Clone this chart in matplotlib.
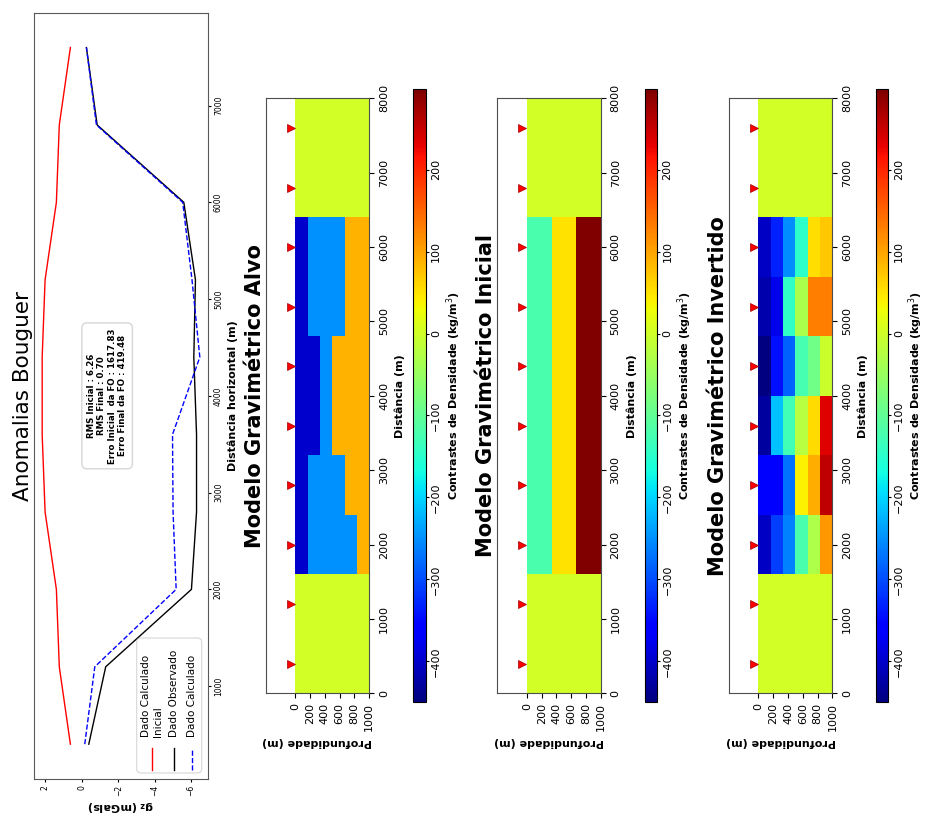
import matplotlib
matplotlib.use("Agg")
import matplotlib.pyplot as plt
import numpy as np
from matplotlib.lines import Line2D
from matplotlib.patches import FancyBboxPatch

W, H = 928, 819

# stations (m) and gravity anomaly curves (mGal)
stations = [400, 1200, 2000, 2800, 3600, 4400, 5200, 6000, 6800, 7600]
gz_ini = [0.63, 1.24, 1.40, 2.02, 2.18, 2.18, 2.02, 1.40, 1.24, 0.63]
gz_obs = [-0.38, -1.31, -6.02, -6.30, -6.30, -6.15, -6.24, -5.60, -0.84, -0.25]
gz_calc = [-0.16, -0.71, -5.18, -5.01, -4.98, -6.48, -6.05, -5.54, -0.80, -0.25]

info_text = ("RMS Inicial : 6.26\nRMS Final : 0.70\n"
             "Erro Inicial  da FO : 1617.83\nErro Final da FO : 419.48")

# model grid: 10 columns of 800 m, 6 layers down to 1000 m
dist_edges = [0, 800, 1600, 2400, 3200, 4000, 4800, 5600, 6400, 7200, 8000]
depth_edges = [0, 166.7, 333.3, 500, 666.7, 833.3, 1000]
depth_ticks = [0, 200, 400, 600, 800, 1000]
dist_ticks = [0, 1000, 2000, 3000, 4000, 5000, 6000, 7000, 8000]

bg = [0, 0, 0, 0, 0, 0]
alvo = [
    bg, bg,
    [-400, -250, -250, -250, -250, 90],
    [-400, -250, -250, -250, 90, 90],
    [-400, -400, -250, 90, 90, 90],
    [-400, -400, -250, 90, 90, 90],
    [-400, -250, -250, -250, 90, 90],
    [-400, -250, -250, -250, 90, 90],
    bg, bg,
]
inicial = [
    bg, bg,
    [-120, -120, 50, 50, 298, 298],
    [-120, -120, 50, 50, 298, 298],
    [-120, -120, 50, 50, 298, 298],
    [-120, -120, 50, 50, 298, 298],
    [-120, -120, 50, 50, 298, 298],
    [-120, -120, 50, 50, 298, 298],
    bg, bg,
]
invertido = [
    bg, bg,
    [-404, -310, -263, -121, -31, 110],
    [-365, -358, -274, 38, 91, 257],
    [-429, -216, -130, -21, 57, 235],
    [-450, -345, -286, -125, -86, -3],
    [-419, -378, -144, -35, 130, 130],
    [-404, -333, -252, -147, 53, 73],
    bg, bg,
]
titles = ["Modelo Gravimétrico Alvo", "Modelo Gravimétrico Inicial",
          "Modelo Gravimétrico Invertido"]


def add_axes_px(fig, left, top, right, bottom):
    return fig.add_axes([left / W, 1 - bottom / H,
                         (right - left) / W, (bottom - top) / H])


def fx(x):
    return x / W


def fy(y):
    return 1 - y / H


def main() -> None:
    fig = plt.figure(figsize=(W / 100, H / 100), dpi=100)

    # --- Anomalias Bouguer (rotated: distance runs upward) ---
    ax0 = add_axes_px(fig, 34.3, 12.7, 207.7, 779.0)
    ax0.plot(gz_ini, stations, color="red", lw=1)
    ax0.plot(gz_obs, stations, color="black", lw=1)
    ax0.plot(gz_calc, stations, color="blue", lw=1, ls="--")
    ax0.invert_xaxis()
    ax0.yaxis.tick_right()
    ax0.yaxis.set_label_position("right")
    ax0.set_xticks([2, 0, -2, -4, -6])
    ax0.set_yticks([1000, 2000, 3000, 4000, 5000, 6000, 7000])
    ax0.tick_params(labelsize=5.5, length=2.5, pad=2)
    for s in ax0.spines.values():
        s.set_color("0.35")
    for lab in ax0.get_xticklabels():
        lab.set_rotation(90)
    for lab in ax0.get_yticklabels():
        lab.set_rotation(90)
        lab.set_va("center")
    ax0.set_ylabel("Distância horizontal (m)", fontsize=8, fontweight="bold",
                   labelpad=3)
    ax0.set_xlabel(r"$\mathbf{g_z}$ (mGals)", fontsize=8, fontweight="bold",
                   rotation=180, labelpad=2)
    fig.text(fx(23), fy(396), "Anomalias Bouguer", rotation=90, fontsize=15.5,
             ha="center", va="center")

    ax0.text(0.42, 0.5, info_text, transform=ax0.transAxes, rotation=90,
             ha="center", va="center", multialignment="center", fontsize=6.2,
             fontweight="bold",
             bbox=dict(boxstyle="round,pad=0.6", facecolor="white",
                       edgecolor="0.8", alpha=0.8))

    # legend drawn by hand so it reads along the rotated page
    fig.add_artist(FancyBboxPatch((fx(136.7), fy(773)), fx(201.7) - fx(136.7),
                                  fy(638) - fy(773),
                                  boxstyle="round,pad=0,rounding_size=0.005",
                                  transform=fig.transFigure, facecolor="white",
                                  edgecolor="0.8", alpha=0.8, lw=0.8))
    leg = [("Dado Calculado\nInicial", 152.0, dict(color="red")),
           ("Dado Observado", 174.0, dict(color="black")),
           ("Dado Calculado", 191.7, dict(color="blue", ls="--"))]
    for label, xp, style in leg:
        fig.add_artist(Line2D([fx(xp), fx(xp)], [fy(770), fy(748)],
                              transform=fig.transFigure, lw=1, **style))
        fig.text(fx(xp), fy(737), label, rotation=90, fontsize=7.5,
                 ha="center", va="bottom", multialignment="left")

    # --- density models ---
    all_vals = np.array([alvo, inicial, invertido], dtype=float)
    vmin, vmax = all_vals.min(), all_vals.max()
    for i, (title, model) in enumerate(zip(titles, [alvo, inicial, invertido])):
        left = 265.7 + i * 231.6
        ax = add_axes_px(fig, left, 98.3, left + 103.6, 693.3)
        mesh = ax.pcolormesh(depth_edges, dist_edges, np.array(model, dtype=float),
                             cmap="jet", vmin=vmin, vmax=vmax)
        ax.plot([-62] * len(stations), stations, ">", color="red",
                markersize=5.5, markeredgecolor="#a00000", markeredgewidth=0.5)
        ax.set_xlim(-400, 1000)
        ax.set_ylim(0, 8000)
        ax.set_xticks(depth_ticks)
        ax.set_yticks(dist_ticks)
        ax.yaxis.tick_right()
        ax.yaxis.set_label_position("right")
        ax.tick_params(labelsize=8)
        for s in ax.spines.values():
            s.set_color("0.3")
        for lab in ax.get_xticklabels():
            lab.set_rotation(90)
        for lab in ax.get_yticklabels():
            lab.set_rotation(90)
            lab.set_va("center")
        ax.set_xlabel("Profundidade (m)", fontsize=8, fontweight="bold",
                      rotation=180)
        ax.set_ylabel("Distância (m)", fontsize=8, fontweight="bold")
        fig.text(fx(left - 11), fy(395.8), title, rotation=90, fontsize=15,
                 fontweight="bold", ha="center", va="center")

        cleft = 413.3 + i * 231.3
        cax = add_axes_px(fig, cleft, 89.3, cleft + 12.4, 702.3)
        cb = fig.colorbar(mesh, cax=cax)
        cb.set_ticks([-400, -300, -200, -100, 0, 100, 200])
        cb.ax.tick_params(labelsize=8, length=2.5, pad=1.5)
        for lab in cb.ax.get_yticklabels():
            lab.set_rotation(90)
            lab.set_va("center")
        cb.set_label("Contrastes de Densidade (kg/m$^3$)", fontsize=8,
                     fontweight="bold", labelpad=2)

    fig.savefig("out.png", dpi=100)
    plt.close(fig)


if __name__ == "__main__":
    main()
